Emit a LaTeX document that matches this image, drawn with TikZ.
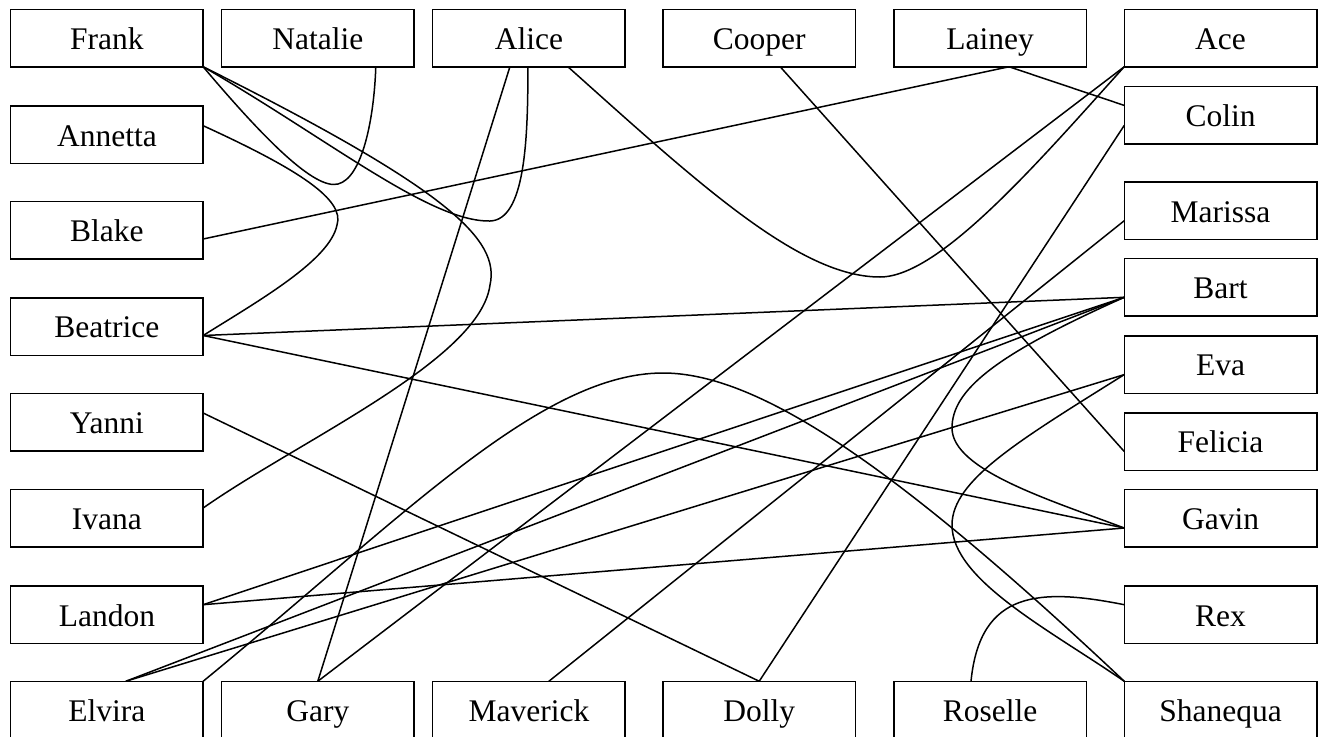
\documentclass[tikz,border=0pt]{standalone}
\usepackage{fontspec}
\setmainfont{Liberation Serif}
\usetikzlibrary{calc}
\begin{document}
\begin{tikzpicture}[x=1pt,y=-1pt,
  person/.style={draw, line width=1.5pt, minimum width=192.5pt, minimum height=57.5pt,
    inner sep=0pt, outer sep=0pt, text height=30pt, text depth=7.4pt,
    font=\fontsize{31.5}{36}\selectfont},
  link/.style={line width=1.5pt}]
\fill[white] (0,0) rectangle (1321,736);
\useasboundingbox (0,0) rectangle (1321,736);
% top row
\node[person] (Frank)    at (106.9,38) {Frank};
\node[person] (Natalie)  at (317.8,38) {Natalie};
\node[person] (Alice)    at (528.9,38) {Alice};
\node[person] (Cooper)   at (759.2,38) {Cooper};
\node[person] (Lainey)   at (990,38) {Lainey};
\node[person] (Ace)      at (1220.5,38) {Ace};
% left column
\node[person] (Annetta)  at (106.9,134.7) {Annetta};
\node[person] (Blake)    at (106.9,230) {Blake};
\node[person] (Beatrice) at (106.9,326.5) {Beatrice};
\node[person] (Yanni)    at (106.9,422) {Yanni};
\node[person] (Ivana)    at (106.9,518) {Ivana};
\node[person] (Landon)   at (106.9,614.7) {Landon};
% right column
\node[person] (Colin)    at (1220.5,115.4) {Colin};
\node[person] (Marissa)  at (1220.5,210.7) {Marissa};
\node[person] (Bart)     at (1220.5,287.3) {Bart};
\node[person] (Eva)      at (1220.5,364.6) {Eva};
\node[person] (Felicia)  at (1220.5,441.5) {Felicia};
\node[person] (Gavin)    at (1220.5,518) {Gavin};
\node[person] (Rex)      at (1220.5,614.7) {Rex};
% bottom row
\node[person] (Elvira)   at (106.9,710) {Elvira};
\node[person] (Gary)     at (317.8,710) {Gary};
\node[person] (Maverick) at (528.9,710) {Maverick};
\node[person] (Dolly)    at (759.2,710) {Dolly};
\node[person] (Roselle)  at (990,710) {Roselle};
\node[person] (Shanequa) at (1220.5,710) {Shanequa};
% curved links
\draw[link] (Frank.south east) .. controls (265,140) and (315,190) .. (338,184)
  .. controls (362,178) and (374,120) .. ($(Natalie.south)+(58,0)$);
\draw[link] (Frank.south east) .. controls (330,140) and (430,222) .. (490,221)
  .. controls (525,220) and (528,140) .. ($(Alice.south)+(-1,0)$);
\draw[link] (Frank.south east) .. controls (450,190) and (500,240) .. (490,285)
  .. controls (480,360) and (300,440) .. ($(Ivana.east)+(0,-10)$);
\draw[link] ($(Annetta.east)+(0,-9)$) .. controls (300,170) and (345,200) .. (337,225)
  .. controls (330,260) and (260,300) .. ($(Beatrice.east)+(0,9)$);
\draw[link] ($(Alice.south)+(39,0)$) .. controls (700,185) and (800,277) .. (880,277)
  .. controls (940,277) and (1040,160) .. (Ace.south west);
\draw[link] (Elvira.north east) .. controls (400,520) and (540,373) .. (663,373)
  .. controls (760,373) and (900,470) .. (Shanequa.north west);
\draw[link] ($(Bart.west)+(0,10)$) .. controls (995,355) and (952,390) .. (952,428)
  .. controls (952,470) and (1050,500) .. ($(Gavin.west)+(0,10)$);
\draw[link] ($(Eva.west)+(0,10)$) .. controls (1020,440) and (952,480) .. (952,525)
  .. controls (952,580) and (1050,630) .. (Shanequa.north west);
\draw[link] ($(Rex.west)+(0,-10)$) .. controls (1040,588) and (980,590) .. ($(Roselle.north)+(-19,0)$);
% straight links
\draw[link] ($(Blake.east)+(0,9)$) -- ($(Lainey.south)+(19,0)$);
\draw[link] ($(Lainey.south)+(19,0)$) -- ($(Colin.west)+(0,-10)$);
\draw[link] ($(Alice.south)+(-19,0)$) -- (Gary.north);
\draw[link] (Ace.south west) -- (Gary.north);
\draw[link] ($(Cooper.south)+(21,0)$) -- ($(Felicia.west)+(0,10)$);
\draw[link] ($(Colin.west)+(0,10)$) -- (Dolly.north);
\draw[link] ($(Marissa.west)+(0,10)$) -- ($(Maverick.north)+(20,0)$);
\draw[link] ($(Beatrice.east)+(0,9)$) -- ($(Bart.west)+(0,10)$);
\draw[link] ($(Beatrice.east)+(0,9)$) -- ($(Gavin.west)+(0,10)$);
\draw[link] ($(Yanni.east)+(0,-9)$) -- (Dolly.north);
\draw[link] ($(Landon.east)+(0,-10)$) -- ($(Bart.west)+(0,10)$);
\draw[link] ($(Landon.east)+(0,-10)$) -- ($(Gavin.west)+(0,10)$);
\draw[link] ($(Elvira.north)+(19,0)$) -- ($(Bart.west)+(0,10)$);
\draw[link] ($(Elvira.north)+(19,0)$) -- ($(Eva.west)+(0,10)$);
\end{tikzpicture}
\end{document}
